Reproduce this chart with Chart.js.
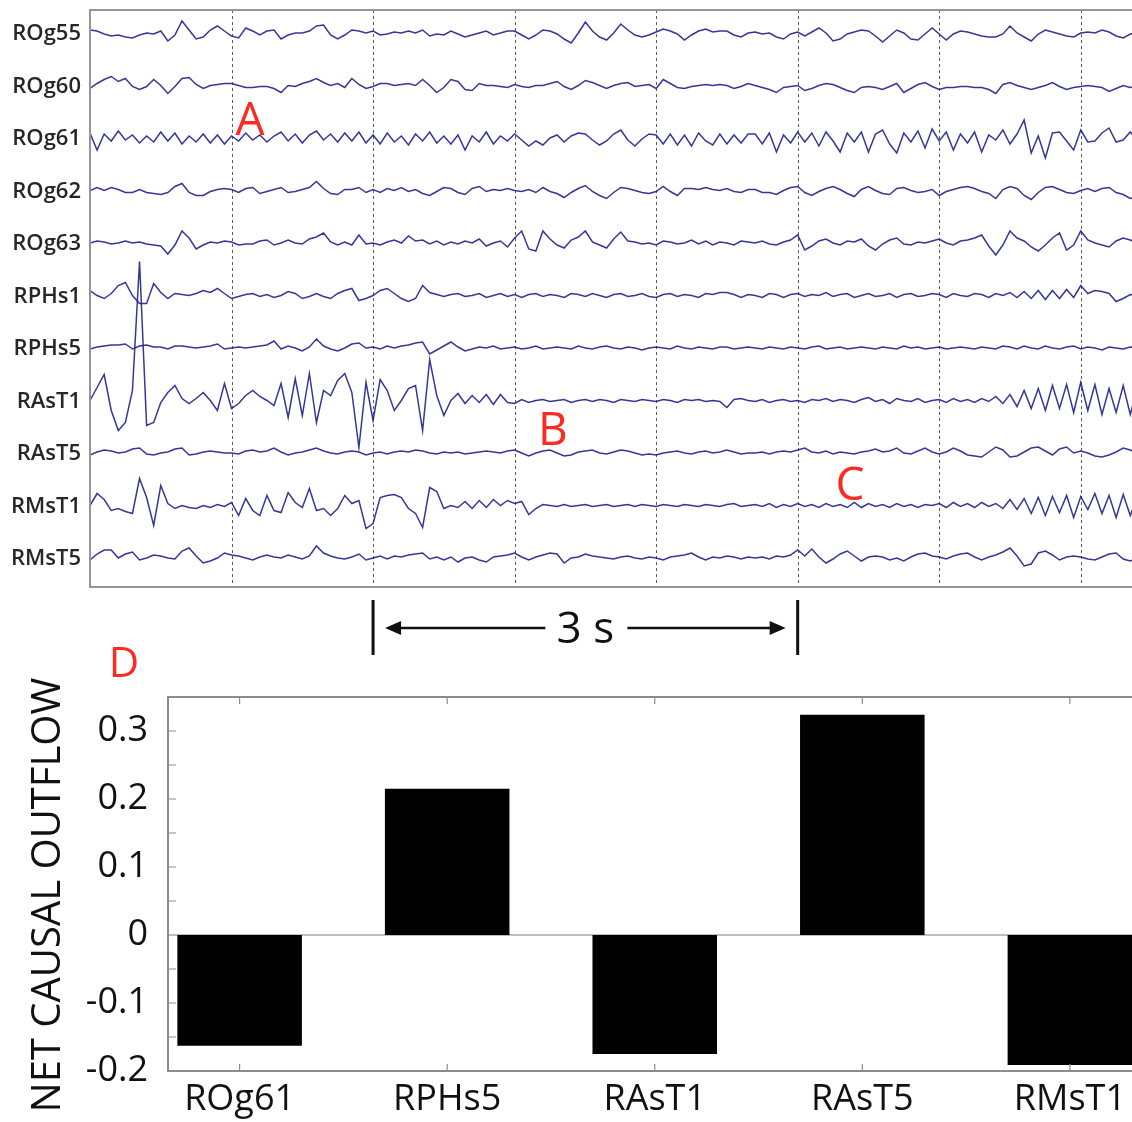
<!DOCTYPE html>
<html>
<head>
<meta charset="utf-8">
<title>Net causal outflow</title>
<script src="https://cdn.jsdelivr.net/npm/chart.js@4.4.0/dist/chart.umd.min.js"></script>
<style>
  html, body { margin: 0; padding: 0; background: #fff; overflow: hidden; }
  #page { position: relative; width: 1132px; height: 1122px; overflow: hidden; }
  .panel { position: absolute; left: 0; width: 1160px; }
  #barBox { top: 630px; height: 492px; }
  #eegBox { top: 0; height: 665px; }
</style>
</head>
<body>
<div id="page">
  <div class="panel" id="barBox"><canvas id="bars"></canvas></div>
  <div class="panel" id="eegBox"><canvas id="eeg"></canvas></div>
</div>
<script>
// ---- intracranial traces: one sample every 50 ms, deflection per channel ----
var STEP = 0.05;
var SPACING = 52.5;
var channels = ["ROg55", "ROg60", "ROg61", "ROg62", "ROg63", "RPHs1", "RPHs5", "RAsT1", "RAsT5", "RMsT1", "RMsT5"];

var ROg55 = [
  3, 2, -1, -3, -2, -4, -5, -2, 0, -1,
  2, -8, -2, 12, 3, -6, -4, 3, 7, 2,
  -3, -5, 5, 2, -2, 2, 3, -6, -2, 0,
  0, 2, 7, 8, -2, -6, -2, 3, 2, 0,
  2, -2, -1, 1, 0, 2, 0, 3, -3, -1,
  -2, 2, -1, -4, -2, 0, 2, -2, 0, 2,
  2, -2, -6, -2, 3, 2, -1, -6, -10, 0,
  11, 2, -4, -7, 0, 9, 3, -2, -4, -2,
  1, 4, 2, -1, -7, -2, 2, 4, 1, 2,
  2, -2, -4, 0, 1, -1, 0, -4, -6, -1,
  1, -3, 1, 5, 0, -8, -6, -1, 1, 3,
  2, -3, -9, -3, 3, 0, -6, -7, -1, 5,
  -1, -7, -1, 2, 1, -1, -3, -4, -4, -1,
  7, 0, -4, -8, -1, 3, 1, -1, -3, -4,
  0, 1, 0, 3, 1, -3, -5, -1, 0
];
var ROg60 = [
  -3, 2, 6, 9, 4, 7, -1, -4, -1, 6,
  0, -8, -1, 7, 8, 1, -3, 0, 1, 2,
  2, 0, -2, -2, -1, -1, -3, -7, 0, -1,
  2, 4, 7, 3, 0, 2, -2, 7, 1, -3,
  -1, 2, 2, 0, 1, 2, 0, 6, 0, -7,
  -2, 6, 4, -4, -5, 2, 0, 0, -1, -2,
  1, -1, -2, 0, 0, 2, 4, -1, -4, 0,
  5, 3, 0, -3, 0, 2, 3, -1, 0, 1,
  -3, 6, 2, -2, -3, -1, 0, 1, 0, 1,
  0, -3, -1, 2, 0, -2, -4, -7, -2, -1,
  0, -5, -3, 0, 2, 1, -2, -5, -7, -2,
  -1, -2, -4, -1, 2, -7, -3, 1, 3, -1,
  -4, -2, -2, -1, -1, -2, -2, -4, -8, 1,
  3, 0, -2, -4, -2, 0, 3, -1, -4, -2,
  -1, 0, -1, -2, -6, -3, 0, -2, -1
];
var ROg61 = [
  5, -12, 4, -3, 7, -2, 3, -5, 2, -4,
  6, -3, 5, -6, 2, -4, 4, -5, 3, -6,
  2, -3, 5, -2, 3, -4, 2, 6, -3, 4,
  -5, 3, 7, -2, 4, -4, 5, -3, 6, -5,
  3, -6, 5, -4, 2, -7, 4, -3, 6, -5,
  2, -6, 3, -12, 2, -4, 6, -6, 2, -3,
  4, -2, -8, -3, -7, 0, 3, -4, 2, 5,
  4, -2, -7, -3, 4, 8, -2, -8, -1, 4,
  3, -6, 4, -7, 3, -8, 5, -3, -7, 4,
  -6, 3, -5, 4, 4, -6, 5, -14, 3, -5,
  6, -4, 5, -8, 6, -3, -14, 5, -4, 6,
  -14, 4, 8, -6, -15, 5, -4, 7, -10, 9,
  -3, 6, -12, 4, -5, 6, -14, 3, -2, 8,
  -6, 4, 18, -15, 2, -20, 5, 6, -3, -12,
  8, -4, -3, 5, 10, -4, -2, 6, -3
];
var ROg62 = [
  0, 3, 0, 3, 1, -2, -2, 1, -2, -3,
  -4, -2, 4, 7, -2, -5, -5, -1, 1, 2,
  1, -2, 2, 3, -3, -1, 1, 3, -2, -1,
  1, 3, 9, 2, -3, -4, 1, 1, 3, -2,
  1, -2, 2, 0, 3, -1, 1, -3, -5, -1,
  3, 2, -2, -4, 2, 4, -1, 1, 0, 2,
  0, -1, 1, -2, 3, -1, -3, -7, -2, 2,
  5, -1, -5, -8, -2, 3, 2, 0, -2, -3,
  -1, 4, -1, -5, 2, 2, 1, 3, 1, 0,
  2, -1, -2, 1, 1, -2, -2, -4, 0, 3,
  4, -2, -5, -1, 2, 4, 1, -3, -6, 1,
  4, 0, -3, -4, 2, 3, 0, -2, -1, 1,
  -5, -1, 1, 3, 4, 2, -1, -3, -8, 1,
  4, 2, -5, -9, -2, 3, 4, 1, -2, -3,
  0, 2, -1, 2, 3, -2, -4, -8, -6
];
var ROg63 = [
  0, 2, 1, -1, 0, 2, 0, 1, -1, -2,
  -3, -11, -2, 12, 5, -6, -2, 1, 0, 2,
  1, -2, -1, -1, 2, 3, -2, 0, 3, 0,
  -1, 4, 6, 10, 1, -2, 1, -2, 8, -1,
  0, -2, 1, 3, 0, 7, 2, 3, -1, 2,
  -2, 1, -1, 2, 0, 4, -3, 0, 2, -4,
  5, 12, -6, -8, 12, 4, -2, -5, 3, 6,
  12, 1, -2, -5, 4, 11, 2, 1, -1, 0,
  -2, 2, 1, -1, 0, 3, -1, 2, -2, 1,
  0, -2, 2, 1, 0, 2, -1, -2, 1, 3,
  8, -7, -3, 2, 4, 0, -2, 2, 1, 4,
  -3, -7, -1, 3, 5, -1, -2, 1, 0, 2,
  4, 0, -2, 2, 3, 5, 8, -3, -12, -2,
  12, 5, 2, -4, -8, -2, 5, 10, -7, -2,
  12, 3, 0, -2, -4, 2, 5, 3, 0
];
var RPHs1 = [
  5, 0, -3, 2, 10, 13, 0, -8, -8, 12,
  3, -3, 2, 1, 0, 2, 5, 3, 7, 2,
  -3, -1, 1, 2, -1, 1, -2, 0, 4, 2,
  -3, -1, 2, -1, -3, 2, 5, 7, -5, -3,
  0, 5, 7, 2, -3, -6, -3, 10, 3, 1,
  -1, 1, 2, -1, 0, 2, -2, 0, 2, -1,
  1, -2, 1, 2, -1, 1, 0, -2, 2, 1,
  -1, 2, 0, -2, 1, 2, -1, 0, 2, -1,
  -2, 1, 2, -1, 1, 0, -2, 2, 1, 3,
  3, 1, -2, 1, 0, -2, 2, 1, -2, 1,
  2, -1, 1, 0, 3, -1, 1, 2, -2, 0,
  2, -1, 0, 2, -2, 1, 2, -1, 0, 2,
  1, -2, 2, 0, -1, 2, 1, -2, 2, 0,
  3, -2, 4, -3, 5, -4, 5, -3, 6, -2,
  10, 2, 5, 4, 2, -6, -3, 1, 0
];
var RPHs5 = [
  -1, 1, 2, 3, 3, 4, -1, 2, 3, 1,
  1, -1, 2, 2, 1, 0, 1, 2, 4, -1,
  0, 1, 0, 1, 2, 3, 7, -1, 2, 0,
  -3, 1, 9, 2, -1, -3, 0, 4, 5, 0,
  1, -1, 2, 0, 2, 3, 5, 6, -6, -2,
  2, 6, 1, -3, -1, 1, 0, 2, -1, 0,
  1, -1, 0, 2, -1, 0, 1, 0, -1, 2,
  0, -1, 1, 2, 0, -1, 1, 0, -2, 0,
  1, 0, -1, 2, 0, -1, 1, 0, -1, 1,
  1, -1, 0, 1, 0, -1, 1, 0, -1, 1,
  0, -1, 1, 2, -1, 0, 1, -1, 0, 1,
  0, -1, 1, 0, -1, 2, 0, 1, -1, 0,
  1, -1, 0, 1, 0, -1, 1, 0, -1, 2,
  1, -1, 2, 0, -1, 2, 0, -1, 1, 2,
  -1, 1, 0, -2, 1, 0, -1, 1, 0
];
var RAsT1 = [
  0, 13, 26, -10, -30, -22, 10, 139, -25, -22,
  -2, 8, 15, 2, -3, 2, 8, 0, -10, 17,
  -8, -3, 5, 10, 4, 0, -5, 17, -17, 22,
  -15, 27, -22, 10, 5, 20, 27, 8, -47, 18,
  -20, 21, 10, -10, 0, 12, 15, -30, 41, 5,
  -15, 0, 7, -3, 5, -2, 6, -4, 6, -2,
  -3, 1, -2, 0, 1, -1, 0, 1, -2, 0,
  1, -1, 1, 0, -2, 1, 0, -1, 1, 0,
  -1, 1, 0, -2, 1, 0, 1, -1, 0, -1,
  -7, 1, 2, 0, -1, 1, -2, 0, 1, -1,
  0, -2, 1, 0, 2, -1, 1, 0, -2, 1,
  3, -1, 1, -3, 2, 0, -1, 2, -2, 0,
  1, -2, 2, -1, 1, -2, 2, -1, 4, -3,
  6, -6, 10, -8, 12, -10, 15, -8, 16, -12,
  18, -10, 16, -14, 12, -12, 15, -14, 12
];
var RAsT5 = [
  -2, 1, 3, 2, 0, 1, 4, 5, -1, -2,
  0, 1, 4, 5, -2, -1, 1, 2, 1, 0,
  0, -1, 2, 3, 1, 2, 5, 1, -2, 0,
  1, 3, 5, 2, 0, -1, 1, 2, 1, -2,
  0, 1, -1, 1, 2, 1, 3, 2, 0, -1,
  1, 0, 1, -1, 0, 1, 2, 1, 0, 2,
  3, 0, -3, 0, 2, 3, 0, -3, -2, 1,
  2, 3, 0, -1, 1, 3, 2, 0, -2, -1,
  -2, 0, 1, 2, 0, -1, 1, 2, 0, 1,
  3, 1, -1, 0, 0, 1, -1, 1, 2, 1,
  3, 5, 1, 0, 2, -1, 1, 0, -1, 1,
  2, 4, 1, 2, 5, 0, -1, 2, 5, 1,
  -1, 1, 5, 2, -2, -3, -4, 1, 6, 3,
  -4, -3, 1, 5, 6, 2, -2, 4, 6, 0,
  2, 0, -3, -4, -2, 1, 5, 3, 0
];
var RMsT1 = [
  0, 12, 6, -5, -3, -6, -8, 27, 8, -20,
  20, 2, -3, 0, -2, -3, 0, -2, 1, -1,
  3, -10, 7, -5, -10, 10, -5, -7, 13, 3,
  -2, 17, -5, -3, -10, -3, 10, 2, 5, -23,
  -18, 8, 10, 11, 8, -3, -8, -22, 18, 14,
  -3, 0, -2, 4, -3, 5, -2, 6, 0, 5,
  2, 4, -9, -3, 1, 0, -1, 1, -1, 0,
  1, -1, 0, 1, -1, 0, 1, -1, 1, 0,
  -1, 1, 0, -1, 1, 0, -1, 1, 0, -1,
  1, 2, -1, 0, 1, -1, 2, -2, 1, -1,
  2, -1, 1, -2, 2, -1, 1, -2, 3, -2,
  2, -1, 1, -2, 2, -1, 1, -2, 1, 0,
  2, -2, 3, -1, 2, -2, 3, -1, 2, -3,
  6, -4, 7, -8, 8, -10, 9, -7, 10, -12,
  9, -4, 12, -8, 10, -12, 11, -10, 9
];
var RMsT5 = [
  -2, 4, 8, 8, 0, 4, 6, -2, 0, 3,
  2, 0, -1, 7, 10, 2, -5, -3, 0, 5,
  3, 2, 0, -2, 1, 3, 1, 0, 3, 1,
  -1, 2, 12, 5, 2, 0, -1, 1, 4, -2,
  0, 2, -1, 2, 1, 3, 4, 5, -1, 1,
  -2, 1, -4, 0, 1, -2, -4, 1, 2, 3,
  5, 1, -2, 1, 3, 5, 4, -5, 0, 1,
  4, 2, 1, 0, -1, 1, 2, 0, -1, 1,
  0, -2, 1, 2, 3, 5, 1, -2, 1, 0,
  2, 1, -1, 1, 0, 1, -1, 2, 1, 3,
  8, 2, 9, 1, -5, -1, 4, 7, 2, -3,
  1, 2, 1, -2, 0, -3, 1, 4, 5, 2,
  1, -1, 2, 4, 5, 1, -2, 1, 3, 6,
  10, 2, -8, -6, 5, 7, 3, -2, 1, 2,
  1, -1, -2, 1, 4, 5, -1, -3, 0
];
var traces = [ROg55, ROg60, ROg61, ROg62, ROg63, RPHs1, RPHs5, RAsT1, RAsT5, RMsT1, RMsT5];

var secondMarks = [1, 2, 3, 4, 5, 6, 7];
var scaleBar = { from: 2, to: 5, text: "3 s" };
var eventLabels = [
  { text: "A", t: 1.13, y: -102 },
  { text: "B", t: 3.27, y: -412 },
  { text: "C", t: 5.37, y: -467 }
];

// ---- net causal outflow per contact ----
var outflowSites = ["ROg61", "RPHs5", "RAsT1", "RAsT5", "RMsT1"];
var netOutflow = [-0.163, 0.215, -0.175, 0.324, -0.191];
var outflowTicks = [-0.2, -0.1, 0, 0.1, 0.2, 0.3];
var outflowMinorTicks = [-0.15, -0.1, -0.05, 0.05, 0.1, 0.15, 0.2, 0.25, 0.3];
var outflowTitle = "NET CAUSAL OUTFLOW";

var RED = "#ff2a1f";
var FONT = "'Open Sans', 'DejaVu Sans', sans-serif";

var eegDecor = {
  id: "eegDecor",
  beforeDatasetsDraw: function(chart) {
    var ctx = chart.ctx, a = chart.chartArea, x = chart.scales.x;
    ctx.save();
    ctx.strokeStyle = "#5a5a5a";
    ctx.lineWidth = 1;
    ctx.setLineDash([3, 3]);
    secondMarks.forEach(function(s) {
      var px = Math.round(x.getPixelForValue(s)) + 0.5;
      ctx.beginPath();
      ctx.moveTo(px, a.top);
      ctx.lineTo(px, a.bottom);
      ctx.stroke();
    });
    ctx.restore();
  },
  afterDraw: function(chart) {
    var ctx = chart.ctx, a = chart.chartArea, x = chart.scales.x, y = chart.scales.y;
    ctx.save();
    // frame
    ctx.strokeStyle = "#959595";
    ctx.lineWidth = 2;
    ctx.beginPath();
    ctx.moveTo(a.right, a.top);
    ctx.lineTo(a.left, a.top);
    ctx.lineTo(a.left, a.bottom);
    ctx.lineTo(a.right, a.bottom);
    ctx.stroke();

    // channel names
    ctx.fillStyle = "#262626";
    ctx.font = "600 22px " + FONT;
    ctx.textAlign = "right";
    ctx.textBaseline = "middle";
    channels.forEach(function(name, k) {
      ctx.fillText(name, a.left - 9, y.getPixelForValue(-k * SPACING) + 1);
    });

    // event markers
    ctx.fillStyle = RED;
    ctx.font = "46px " + FONT;
    ctx.textAlign = "center";
    ctx.textBaseline = "alphabetic";
    eventLabels.forEach(function(e) {
      ctx.fillText(e.text, x.getPixelForValue(e.t), y.getPixelForValue(e.y));
    });

    // time scale bar
    var x0 = x.getPixelForValue(scaleBar.from), x1 = x.getPixelForValue(scaleBar.to);
    var xm = (x0 + x1) / 2;
    var top = a.bottom + 13, bot = a.bottom + 68, ym = a.bottom + 41;
    ctx.strokeStyle = "#111";
    ctx.fillStyle = "#111";
    ctx.lineWidth = 3;
    ctx.beginPath();
    ctx.moveTo(x0, top); ctx.lineTo(x0, bot);
    ctx.moveTo(x1, top); ctx.lineTo(x1, bot);
    ctx.stroke();
    ctx.lineWidth = 2.5;
    ctx.beginPath();
    ctx.moveTo(x0 + 24, ym); ctx.lineTo(xm - 40, ym);
    ctx.moveTo(xm + 42, ym); ctx.lineTo(x1 - 24, ym);
    ctx.stroke();
    ctx.beginPath();
    ctx.moveTo(x0 + 12, ym); ctx.lineTo(x0 + 28, ym - 7); ctx.lineTo(x0 + 28, ym + 7); ctx.closePath();
    ctx.moveTo(x1 - 12, ym); ctx.lineTo(x1 - 28, ym - 7); ctx.lineTo(x1 - 28, ym + 7); ctx.closePath();
    ctx.fill();
    ctx.font = "44px " + FONT;
    ctx.fillText(scaleBar.text, xm, a.bottom + 56);
    ctx.restore();
  }
};

var barDecor = {
  id: "barDecor",
  beforeDatasetsDraw: function(chart) {
    var ctx = chart.ctx, a = chart.chartArea, y = chart.scales.y;
    var y0 = y.getPixelForValue(0);
    ctx.save();
    ctx.strokeStyle = "#a8a8a8";
    ctx.lineWidth = 1.5;
    ctx.beginPath();
    ctx.moveTo(a.left, y0);
    ctx.lineTo(a.right, y0);
    ctx.stroke();
    ctx.restore();
  },
  afterDraw: function(chart) {
    var ctx = chart.ctx, a = chart.chartArea, x = chart.scales.x, y = chart.scales.y;
    ctx.save();
    ctx.strokeStyle = "#8c8c8c";
    ctx.lineWidth = 2;
    ctx.strokeRect(a.left, a.top, a.right - a.left, a.bottom - a.top);
    ctx.lineWidth = 1.2;
    ctx.beginPath();
    outflowSites.forEach(function(_, i) {
      var px = x.getPixelForValue(i + 1);
      ctx.moveTo(px, a.bottom); ctx.lineTo(px, a.bottom - 7);
      ctx.moveTo(px, a.top); ctx.lineTo(px, a.top + 7);
    });
    outflowMinorTicks.forEach(function(v) {
      var py = y.getPixelForValue(v);
      ctx.moveTo(a.left, py); ctx.lineTo(a.left + 8, py);
    });
    ctx.stroke();

    // axis title, rotated along the value axis
    ctx.fillStyle = "#111";
    ctx.font = "40px " + FONT;
    ctx.textAlign = "center";
    ctx.textBaseline = "middle";
    ctx.translate(49, (a.top + a.bottom) / 2 + 11);
    ctx.rotate(-Math.PI / 2);
    ctx.fillText(outflowTitle, 0, 0);
    ctx.setTransform(1, 0, 0, 1, 0, 0);

    // panel letter
    ctx.fillStyle = RED;
    ctx.font = "42px " + FONT;
    ctx.textAlign = "center";
    ctx.textBaseline = "alphabetic";
    ctx.fillText("D", a.left - 44, a.top - 20);
    ctx.restore();
  }
};

var eegDatasets = traces.map(function(tr, k) {
  return {
    label: channels[k],
    data: tr.map(function(v, i) { return { x: i * STEP, y: v - k * SPACING }; }),
    borderColor: "rgba(36, 38, 142, 0.92)",
    borderWidth: 1.5,
    pointRadius: 0,
    tension: 0
  };
});

new Chart(document.getElementById("eeg"), {
  type: "line",
  data: { datasets: eegDatasets },
  options: {
    responsive: true,
    maintainAspectRatio: false,
    animation: false,
    events: [],
    layout: { padding: { left: 90, top: 10, right: 0, bottom: 78 } },
    plugins: { legend: { display: false }, tooltip: { enabled: false } },
    scales: {
      x: { type: "linear", display: false, min: 0, max: 7.56 },
      y: { type: "linear", display: false, min: -554, max: 23 }
    }
  },
  plugins: [eegDecor]
});

new Chart(document.getElementById("bars"), {
  type: "bar",
  data: {
    datasets: [{
      data: outflowSites.map(function(s, i) { return { x: i + 1, y: netOutflow[i] }; }),
      backgroundColor: "#000",
      borderWidth: 0,
      barPercentage: 0.6,
      categoryPercentage: 1
    }]
  },
  options: {
    responsive: true,
    maintainAspectRatio: false,
    animation: false,
    events: [],
    layout: { padding: { left: 0, top: 67, right: 18.5, bottom: 0 } },
    plugins: { legend: { display: false }, tooltip: { enabled: false } },
    scales: {
      x: {
        type: "linear",
        min: 0.655,
        max: 5.345,
        offset: false,
        grid: { display: false, drawTicks: false },
        border: { display: false },
        afterBuildTicks: function(s) { s.ticks = outflowSites.map(function(_, i) { return { value: i + 1 }; }); },
        afterFit: function(s) { s.height = 51; },
        ticks: {
          padding: 7,
          color: "#111",
          font: { family: FONT, size: 36 },
          callback: function(v) { return outflowSites[Math.round(v) - 1]; }
        }
      },
      y: {
        type: "linear",
        min: -0.2,
        max: 0.35,
        grid: { display: false, drawTicks: false },
        border: { display: false },
        afterBuildTicks: function(s) { s.ticks = outflowTicks.map(function(v) { return { value: v }; }); },
        afterFit: function(s) { s.width = 168; },
        ticks: {
          padding: 20,
          color: "#111",
          font: { family: FONT, size: 36 },
          callback: function(v) { return Math.abs(v) < 1e-9 ? "0" : v.toFixed(1); }
        }
      }
    }
  },
  plugins: [barDecor]
});
</script>
</body>
</html>
